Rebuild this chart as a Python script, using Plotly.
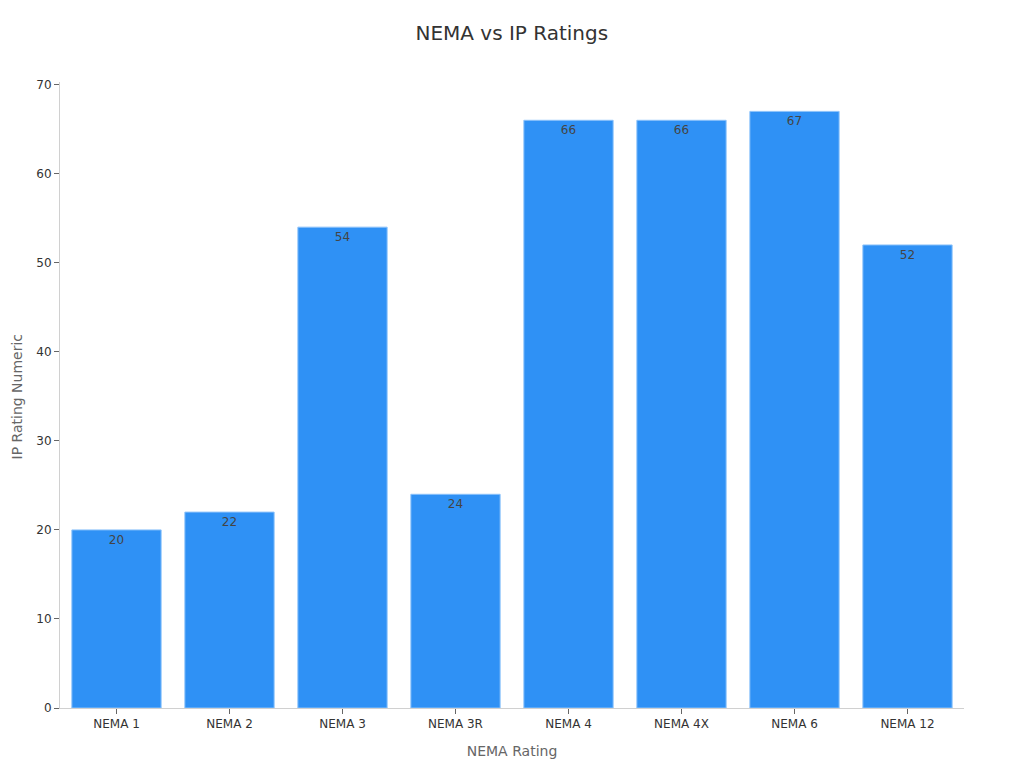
import plotly.graph_objects as go

categories = ["NEMA 1", "NEMA 2", "NEMA 3", "NEMA 3R", "NEMA 4", "NEMA 4X", "NEMA 6", "NEMA 12"]
ip_values = [20, 22, 54, 24, 66, 66, 67, 52]

fig = go.Figure(go.Bar(
    x=categories,
    y=ip_values,
    text=[str(v) for v in ip_values],
    textposition="inside",
    insidetextanchor="end",
    textfont=dict(color="#444444", size=12),
    marker=dict(color="#2f91f5", line=dict(color="#8cc2fa", width=1)),
))

fig.update_layout(
    width=1024, height=768,
    font=dict(family="DejaVu Sans", color="#333333"),
    title=dict(text="NEMA vs IP Ratings", x=0.492, xanchor="center", y=0.967, yanchor="middle",
               font=dict(size=20, color="#333333")),
    plot_bgcolor="white", paper_bgcolor="white",
    margin=dict(l=52, r=68, t=74, b=68),
    bargap=0.21,
    showlegend=False,
    uniformtext=dict(minsize=12, mode="show"),
    annotations=[dict(
        text="IP Rating Numeric", textangle=-90,
        xref="paper", yref="paper", x=-0.048, y=0.497,
        xanchor="center", yanchor="middle", showarrow=False,
        font=dict(size=14, color="#666666"),
    )],
)
fig.update_xaxes(
    title=dict(text="NEMA Rating", font=dict(size=14, color="#666666"), standoff=15),
    showline=True, linecolor="#d0d0d0", linewidth=1,
    ticks="outside", tickcolor="#666666", ticklen=5,
    tickfont=dict(size=12, color="#333333"),
    showgrid=False,
)
fig.update_yaxes(
    automargin=False,
    range=[0, 70.3],
    dtick=10,
    showline=True, linecolor="#d0d0d0", linewidth=1,
    ticks="outside", tickcolor="#666666", ticklen=5,
    tickfont=dict(size=12, color="#333333"),
    showgrid=False, zeroline=False,
)

fig.write_html("out.html")
